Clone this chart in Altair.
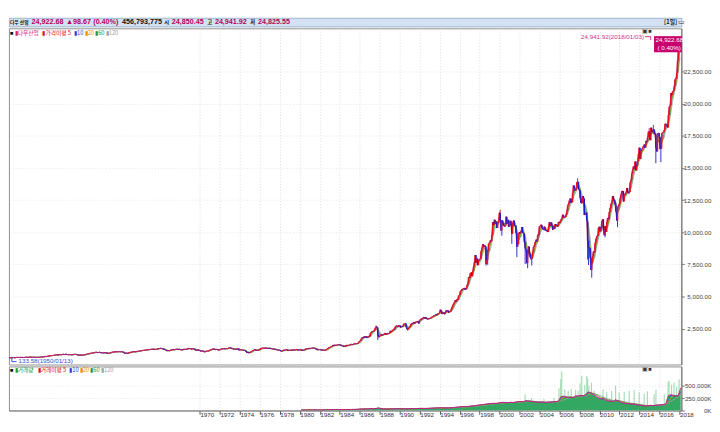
import altair as alt
import pandas as pd

# ---------------- data (read off the picture / approximate monthly closes) ----------------
price_rows = [
    [201, 203, 206, 214, 223, 209, 209, 217, 226, 225, 227, 235],  # 1950
    [249, 252, 248, 259, 250, 242, 258, 270, 271, 262, 261, 269],
    [270, 260, 270, 258, 263, 274, 280, 275, 271, 269, 283, 291],
    [290, 284, 280, 274, 272, 268, 275, 262, 264, 276, 281, 281],
    [292, 295, 304, 319, 327, 334, 348, 336, 361, 352, 386, 404],
    [409, 412, 410, 426, 425, 451, 466, 468, 467, 455, 483, 488],  # 1955
    [471, 484, 512, 516, 478, 493, 518, 502, 475, 480, 473, 500],
    [479, 465, 475, 494, 505, 503, 508, 484, 456, 441, 450, 436],
    [450, 440, 447, 456, 463, 478, 503, 509, 532, 543, 558, 584],
    [594, 603, 602, 624, 644, 644, 675, 664, 632, 646, 660, 679],
    [623, 630, 616, 601, 626, 641, 617, 626, 580, 580, 597, 616],  # 1960
    [648, 662, 677, 679, 697, 684, 705, 720, 701, 704, 722, 731],
    [700, 708, 707, 665, 614, 561, 598, 609, 579, 590, 649, 652],
    [683, 662, 683, 718, 727, 707, 695, 729, 733, 755, 751, 763],
    [785, 800, 813, 810, 821, 832, 841, 839, 875, 873, 875, 874],
    [903, 904, 889, 922, 918, 868, 882, 893, 931, 961, 947, 969],  # 1965
    [984, 952, 925, 933, 884, 870, 847, 788, 774, 807, 792, 786],
    [850, 839, 866, 897, 853, 860, 904, 901, 927, 880, 875, 905],
    [856, 840, 840, 912, 899, 898, 883, 896, 936, 952, 985, 944],
    [946, 905, 936, 950, 938, 873, 816, 837, 813, 856, 812, 800],
    [744, 778, 786, 736, 700, 684, 734, 765, 761, 756, 794, 839],  # 1970
    [869, 879, 904, 942, 908, 891, 858, 898, 887, 839, 831, 890],
    [902, 928, 941, 954, 961, 929, 925, 964, 953, 956, 1018, 1020],
    [999, 955, 951, 921, 901, 892, 926, 888, 947, 956, 822, 851],
    [856, 860, 847, 837, 802, 802, 757, 679, 608, 666, 619, 616],
    [704, 739, 768, 821, 832, 879, 832, 835, 794, 836, 861, 852],  # 1975
    [975, 972, 999, 997, 975, 1003, 985, 974, 990, 965, 947, 1004],
    [954, 936, 919, 927, 899, 916, 890, 862, 847, 818, 830, 831],
    [770, 742, 757, 837, 841, 819, 862, 877, 866, 793, 799, 805],
    [839, 809, 862, 854, 822, 842, 846, 888, 878, 816, 822, 839],
    [876, 863, 786, 817, 851, 868, 935, 933, 932, 925, 993, 964],  # 1980
    [947, 975, 1004, 998, 992, 977, 952, 882, 850, 853, 889, 875],
    [872, 825, 823, 848, 820, 812, 809, 901, 896, 992, 1039, 1047],
    [1076, 1113, 1130, 1226, 1200, 1222, 1199, 1216, 1233, 1225, 1276, 1259],
    [1221, 1155, 1165, 1171, 1105, 1132, 1115, 1224, 1207, 1207, 1189, 1212],
    [1287, 1284, 1267, 1258, 1315, 1336, 1348, 1334, 1329, 1374, 1472, 1547],  # 1985
    [1571, 1709, 1819, 1784, 1877, 1893, 1775, 1898, 1768, 1878, 1914, 1896],
    [2158, 2224, 2305, 2286, 2292, 2419, 2572, 2663, 2596, 1994, 1834, 1939],
    [1958, 2072, 1988, 2032, 2031, 2142, 2129, 2032, 2113, 2149, 2114, 2169],
    [2342, 2258, 2294, 2419, 2480, 2440, 2661, 2737, 2693, 2645, 2748, 2753],
    [2591, 2627, 2708, 2657, 2877, 2881, 2905, 2614, 2453, 2442, 2560, 2634],  # 1990
    [2736, 2882, 2914, 2888, 3028, 2907, 3025, 3044, 3017, 3069, 2895, 3169],
    [3224, 3268, 3236, 3359, 3397, 3319, 3394, 3257, 3272, 3226, 3306, 3301],
    [3310, 3371, 3435, 3428, 3527, 3516, 3540, 3651, 3555, 3681, 3684, 3754],
    [3978, 3832, 3636, 3682, 3758, 3625, 3765, 3913, 3843, 3908, 3739, 3834],
    [3844, 4011, 4158, 4321, 4465, 4556, 4709, 4611, 4789, 4756, 5075, 5117],  # 1995
    [5395, 5486, 5588, 5569, 5643, 5655, 5529, 5616, 5882, 6029, 6522, 6448],
    [6813, 6878, 6584, 7009, 7331, 7673, 8223, 7622, 7945, 7442, 7823, 7908],
    [7907, 8546, 8800, 9063, 8900, 8952, 8883, 7539, 7843, 8592, 9117, 9181],
    [9359, 9307, 9786, 10789, 10560, 10971, 10655, 10829, 10337, 10730, 10878, 11497],
    [10941, 10128, 10922, 10734, 10522, 10448, 10522, 11215, 10651, 10971, 10415, 10788],  # 2000
    [10887, 10495, 9879, 10735, 10912, 10502, 10523, 9950, 8848, 9075, 9852, 10022],
    [9920, 10106, 10404, 9946, 9925, 9243, 8737, 8664, 7592, 8397, 8896, 8342],
    [8054, 7891, 7992, 8480, 8850, 8985, 9234, 9416, 9275, 9801, 9782, 10454],
    [10488, 10584, 10358, 10226, 10188, 10435, 10140, 10174, 10080, 10027, 10428, 10783],
    [10490, 10766, 10504, 10193, 10467, 10275, 10641, 10482, 10569, 10440, 10806, 10718],  # 2005
    [10865, 10993, 11109, 11367, 11168, 11150, 11186, 11381, 11679, 12081, 12222, 12463],
    [12622, 12269, 12354, 13063, 13628, 13409, 13212, 13358, 13896, 13930, 13372, 13265],
    [12650, 12266, 12263, 12820, 12638, 11350, 11378, 11544, 10851, 9325, 8829, 8776],
    [8001, 7063, 7609, 8168, 8500, 8447, 9172, 9496, 9712, 9713, 10345, 10428],
    [10067, 10325, 10857, 11009, 10137, 9774, 10466, 10015, 10788, 11118, 11006, 11578],  # 2010
    [11892, 12226, 12320, 12811, 12570, 12414, 12143, 11614, 10913, 11955, 12046, 12218],
    [12633, 12952, 13212, 13214, 12393, 12880, 13009, 13091, 13437, 13096, 13026, 13104],
    [13861, 14054, 14579, 14840, 15116, 14910, 15500, 14810, 15130, 15546, 16086, 16577],
    [15699, 16322, 16458, 16581, 16717, 16827, 16563, 17098, 17043, 17391, 17828, 17823],
    [17165, 18133, 17776, 17841, 18011, 17620, 17690, 16528, 16285, 17664, 17720, 17425],  # 2015
    [16466, 16517, 17685, 17774, 17787, 17930, 18432, 18401, 18308, 18142, 19124, 19763],
    [19864, 20812, 20663, 20941, 21009, 21350, 21891, 21948, 22405, 23377, 24272, 24719],
]
price_last = [24922.68]  # 2018/01/03

# intramonth extremes visible as spikes in the picture
low_months = ["1987-10", "1990-10", "1998-08", "1998-10", "2000-03", "2001-03", "2001-09",
              "2002-07", "2002-10", "2003-03", "2008-10", "2008-11", "2009-03", "2010-07",
              "2011-10", "2015-08", "2016-02"]
low_vals = [1620, 2350, 7400, 7470, 9730, 9100, 8060,
            7530, 7200, 7420, 7880, 7450, 6470, 9610,
            10400, 15370, 15450]
high_months = ["1987-08", "1999-12", "2000-01", "2007-10", "2014-12", "2015-05", "2018-01"]
high_vals = [2740, 11570, 11750, 14200, 18100, 18350, 24941.92]

# quarterly average volume (K), 1980Q1 .. 2017Q4, then 2018
vol_rows = [
    [9000, 10000, 10000, 11000],      # 1980
    [11000, 11000, 10000, 11000],
    [11000, 12000, 16000, 18000],
    [19000, 20000, 19000, 19000],
    [19000, 18000, 21000, 19000],
    [21000, 22000, 22000, 26000],     # 1985
    [31000, 31000, 31000, 33000],
    [39000, 36000, 41000, 52000],
    [33000, 31000, 29000, 31000],
    [33000, 34000, 36000, 37000],
    [35000, 33000, 36000, 34000],     # 1990
    [39000, 39000, 38000, 41000],
    [43000, 41000, 41000, 43000],
    [46000, 49000, 51000, 53000],
    [56000, 53000, 51000, 53000],
    [56000, 61000, 66000, 71000],     # 1995
    [76000, 79000, 77000, 83000],
    [91000, 96000, 101000, 111000],
    [116000, 121000, 131000, 136000],
    [141000, 146000, 141000, 151000],
    [161000, 166000, 151000, 161000],  # 2000
    [166000, 161000, 171000, 181000],
    [181000, 176000, 201000, 191000],
    [181000, 176000, 171000, 166000],
    [171000, 166000, 161000, 171000],
    [170000, 175000, 180000, 190000],  # 2005
    [280000, 290000, 270000, 260000],
    [270000, 260000, 300000, 290000],
    [310000, 290000, 330000, 380000],
    [350000, 320000, 280000, 250000],
    [230000, 250000, 200000, 190000],  # 2010
    [190000, 180000, 220000, 190000],
    [160000, 150000, 140000, 140000],
    [130000, 130000, 120000, 110000],
    [100000, 95000, 90000, 100000],
    [105000, 95000, 110000, 110000],   # 2015
    [115000, 120000, 130000, 300000],
    [320000, 300000, 290000, 300000],
]
vol_last = [456794]

spike_dates = ["1987-10-20", "2002-07-20", "2003-03-10", "2004-06-10", "2005-06-10",
               "2005-12-10", "2006-02-10", "2006-03-20", "2006-07-10", "2006-11-10",
               "2007-03-01", "2007-08-10", "2007-11-10", "2008-01-20", "2008-03-20",
               "2008-07-10", "2008-09-20", "2008-10-20", "2008-12-10", "2009-03-10",
               "2009-06-20", "2010-05-10", "2010-09-20", "2011-03-20", "2011-08-10",
               "2011-12-20", "2012-06-20", "2012-12-20", "2013-06-20", "2013-12-20",
               "2014-06-20", "2014-10-15", "2015-06-20", "2015-08-25", "2016-06-24",
               "2016-11-10", "2016-12-16", "2017-03-17", "2017-06-16", "2017-09-15",
               "2017-12-15"]
spike_vals = [80000, 330000, 250000, 230000, 260000,
              450000, 630000, 790000, 430000, 400000,
              430000, 420000, 400000, 550000, 700000,
              520000, 700000, 650000, 500000, 560000,
              400000, 430000, 370000, 400000, 500000,
              370000, 380000, 400000, 410000, 370000,
              340000, 390000, 330000, 420000, 330000,
              570000, 600000, 520000, 560000, 480000,
              630000]

x_tick_years = list(range(1970, 2019, 2))
main_ticks = [2500, 5000, 7500, 10000, 12500, 15000, 17500, 20000, 22500]
vol_ticks = [0, 250000, 500000]

# ---------------- tables ----------------
closes = [v for row in price_rows for v in row] + price_last
pdates = pd.date_range("1950-01-01", periods=len(closes), freq="MS") + pd.Timedelta(days=20)
price_df = pd.DataFrame({"date": pdates, "close": closes})
price_df["ym"] = price_df["date"].dt.strftime("%Y-%m")

low_df = pd.DataFrame({"ym": low_months, "ext": low_vals}).merge(price_df, on="ym")
high_df = pd.DataFrame({"ym": high_months, "ext": high_vals}).merge(price_df, on="ym")

vols = [v for row in vol_rows for v in row] + vol_last
vdates = pd.date_range("1980-01-01", periods=len(vols), freq="QS") + pd.Timedelta(days=45)
vol_df = pd.DataFrame({"date": vdates, "vol": vols})
spike_df = pd.DataFrame({"date": pd.to_datetime(spike_dates), "vol": spike_vals})

# ---------------- layout ----------------
W = 672
H_MAIN = 351
H_VOL = 46
FONT = "Liberation Sans, Arial, sans-serif"
KFONT = "Noto Sans CJK KR, sans-serif"

XS = alt.Scale(domain=[alt.DateTime(year=1950, month=11, date=20),
                       alt.DateTime(year=2018, month=3, date=10)])
x_vals = [alt.DateTime(year=y, month=1, date=1) for y in x_tick_years]
YS = alt.Scale(domain=[-287, 25860], nice=False, zero=False)
VS = alt.Scale(domain=[0, 890000], nice=False)

x_axis_main = alt.Axis(values=x_vals, labels=False, ticks=False, domain=False, grid=True,
                       gridColor="#dadada", gridDash=[1, 2], title=None)
x_axis_vol = alt.Axis(values=x_vals, format="%Y", labelAlign="left", labelBaseline="top",
                      tickSize=4, labelPadding=-3, labelFontSize=6.5, labelColor="#333",
                      labelFont=FONT, tickColor="#555", domainColor="#808080",
                      grid=True, gridColor="#dadada", gridDash=[1, 2], title=None,
                      labelOverlap=False, labelFlush=False)
y_axis_main = alt.Axis(values=main_ticks, format=",.2f", orient="right", title=None,
                       labelFontSize=6.5, labelFont=FONT, labelColor="#444",
                       labelAlign="right", labelPadding=28,
                       tickSize=3, tickColor="#707070", domainColor="#707070",
                       grid=True, gridColor="#e4e4e4", gridDash=[1, 2])
y_axis_vol = alt.Axis(values=vol_ticks, labelExpr="format(datum.value, ',') + 'K'",
                      orient="right", title=None, labelFontSize=6.5, labelFont=FONT,
                      labelColor="#444", labelAlign="right", labelPadding=28,
                      tickSize=3, tickColor="#707070",
                      domainColor="#707070", grid=True, gridColor="#e4e4e4", gridDash=[1, 2])

X_MAIN = alt.X("date:T", scale=XS, axis=x_axis_main)
X_VOL = alt.X("date:T", scale=XS, axis=x_axis_vol)


def note(text, x, y, color, size=7, weight="normal", align="left", font=FONT):
    return alt.Chart(pd.DataFrame({"k": [0]})).mark_text(
        text=text, align=align, baseline="middle", fontSize=size, fontWeight=weight,
        color=color, font=font
    ).encode(x=alt.value(x), y=alt.value(y))


def seg(x, y, x2, y2, color):
    return alt.Chart(pd.DataFrame({"k": [0]})).mark_rule(color=color, strokeWidth=1).encode(
        x=alt.value(x), y=alt.value(y), x2=alt.value(x2), y2=alt.value(y2))


# ---------------- header bar ----------------
MAG = "#b8005a"
hy = 4.8
header = alt.layer(
    note("다우 산업", 1, hy, "#111", 5, "bold", font=KFONT),
    note("24,922.68", 23.5, hy, MAG, 7.5, "bold"),
    note("▲98.67", 59.5, hy, MAG, 7.5, "bold"),
    note("(0.40%)", 88, hy, MAG, 7.5, "bold"),
    note("456,793,775", 118, hy, "#111", 7.5, "bold"),
    note("시", 162, hy, "#111", 5.5, "bold", font=KFONT),
    note("24,850.45", 170, hy, MAG, 7.5, "bold"),
    note("고", 207, hy, "#111", 5.5, "bold", font=KFONT),
    note("24,941.92", 215, hy, MAG, 7.5, "bold"),
    note("저", 252, hy, "#111", 5.5, "bold", font=KFONT),
    note("24,825.55", 260, hy, MAG, 7.5, "bold"),
    note("[1일]", 684, hy, "#111", 6, "bold", font=KFONT),
    note("▭", 698, hy, "#333", 7),
).properties(width=702, height=9,
             view=alt.ViewBackground(fill="#d3e2f2", stroke="#9fb3c8", strokeWidth=1))

# ---------------- main price panel ----------------
ma_specs = [(6, "#b0b0b0", 1.1), (4, "#2a9d4a", 1.1), (3, "#f39a10", 1.1),
            (2, "#6a5ae6", 1.0), (1, "#e0106a", 0.9)]


def ma_line(k, color, w):
    return alt.Chart(price_df).transform_window(
        ma="mean(close)", frame=[-(k - 1), 0], sort=[alt.SortField("date")]
    ).mark_line(color=color, strokeWidth=w, clip=True).encode(
        x=X_MAIN, y=alt.Y("ma:Q", scale=YS, axis=y_axis_main))


candles = alt.Chart(price_df).transform_window(
    prev="lag(close)", sort=[alt.SortField("date")]
).transform_filter("isValid(datum.prev)").mark_rule(strokeWidth=1.5, clip=True).encode(
    x=X_MAIN,
    y=alt.Y("prev:Q", scale=YS, axis=y_axis_main),
    y2="close:Q",
    color=alt.condition("datum.close >= datum.prev", alt.value("#e8101a"), alt.value("#1a1acc")),
)
low_wicks = alt.Chart(low_df).mark_rule(strokeWidth=1, color="#2a2ad0", clip=True).encode(
    x=X_MAIN, y=alt.Y("ext:Q", scale=YS, axis=y_axis_main), y2="close:Q")
high_wicks = alt.Chart(high_df).mark_rule(strokeWidth=1, color="#e01030", clip=True).encode(
    x=X_MAIN, y=alt.Y("ext:Q", scale=YS, axis=y_axis_main), y2="close:Q")

last_df = price_df.tail(1)
box_shape = "M-1,-0.58L1,-0.58L1,0.58L-1,0.58Z"
price_box = alt.Chart(last_df).mark_point(
    shape=box_shape, size=841, filled=True, opacity=1, color="#c8006e", yOffset=4
).encode(x=alt.value(W + 16), y=alt.Y("close:Q", scale=YS, axis=y_axis_main))
price_box_t1 = alt.Chart(last_df).mark_text(
    text="24,922.68", align="left", baseline="middle", fontSize=6.5, color="white", font=FONT
).encode(x=alt.value(W + 3), y=alt.Y("close:Q", scale=YS, axis=y_axis_main))
price_box_t2 = alt.Chart(last_df).mark_text(
    text="( 0.40%)", align="left", baseline="middle", fontSize=6.5, color="white", font=FONT,
    yOffset=8
).encode(x=alt.value(W + 5), y=alt.Y("close:Q", scale=YS, axis=y_axis_main))

ly = 4.5
main = alt.layer(
    *[ma_line(k, c, w) for k, c, w in ma_specs],
    low_wicks, high_wicks, candles,
    price_box, price_box_t1, price_box_t2,
    note("■", 1, ly, "#111", 6),
    note("▮다우산업", 6, ly, "#d0206a", 6, font=KFONT),
    note("▮가격이평 5", 35, ly, "#e01020", 6, font=KFONT),
    note("▮10", 68, ly, "#3a3ae0", 6, font=KFONT),
    note("▮20", 79, ly, "#f08c00", 6, font=KFONT),
    note("▮60", 90, ly, "#1f9a44", 6, font=KFONT),
    note("▮120", 101, ly, "#a0a0a0", 6, font=KFONT),
    note("▣■", W - 1, 3, "#333", 6, align="right"),
    note("24,941.92(2018/01/03)", W - 9, 8.7, "#d0308a", 6.5, align="right"),
    seg(W - 8, 8.7, W - 2, 8.7, "#d0308a"),
    seg(W - 2, 8.7, W - 2, 12, "#d0308a"),
    note("133.58(1950/01/13)", 10, 347, "#3050d0", 6.5),
    seg(3, 343, 3, 348, "#3050d0"),
    seg(3, 348, 8, 348, "#3050d0"),
).properties(width=W, height=H_MAIN,
             view=alt.ViewBackground(fill="white", stroke="#8c8c8c", strokeWidth=1))

# ---------------- volume panel ----------------
vol_specs = [(6, "#a8a8a8"), (4, "#2a9d4a"), (3, "#f39a10"), (2, "#4a4ae6"), (1, "#e0106a")]


def vol_ma(k, color):
    return alt.Chart(vol_df).transform_window(
        ma="mean(vol)", frame=[-(k - 1), 0], sort=[alt.SortField("date")]
    ).mark_line(color=color, strokeWidth=0.8, clip=True).encode(
        x=X_VOL, y=alt.Y("ma:Q", scale=VS, axis=y_axis_vol))


spikes = alt.Chart(spike_df).mark_rule(color="#a6dbb6", strokeWidth=1.2, clip=True).encode(
    x=X_VOL, y=alt.Y("vol:Q", scale=VS, axis=y_axis_vol), y2=alt.datum(0))
vol_area = alt.Chart(vol_df).mark_area(color="#33a862", opacity=1, clip=True).encode(
    x=X_VOL, y=alt.Y("vol:Q", scale=VS, axis=y_axis_vol))

vy = 4
volume = alt.layer(
    spikes, vol_area, *[vol_ma(k, c) for k, c in vol_specs],
    note("■", 1, vy, "#111", 6),
    note("▮거래량", 6, vy, "#1f9a44", 6, font=KFONT),
    note("▮거래이평 5", 30, vy, "#e01020", 6, font=KFONT),
    note("▮10", 63, vy, "#3a3ae0", 6, font=KFONT),
    note("▮20", 74, vy, "#f08c00", 6, font=KFONT),
    note("▮60", 85, vy, "#1f9a44", 6, font=KFONT),
    note("▮120", 96, vy, "#a0a0a0", 6, font=KFONT),
    note("▣■", W - 1, 3, "#333", 6, align="right"),
).properties(width=W, height=H_VOL,
             view=alt.ViewBackground(fill="white", stroke="#8c8c8c", strokeWidth=1))

chart = alt.vconcat(header, main, volume, spacing=0).resolve_scale(
    x="shared", y="independent"
).properties(padding=0, background="white")

chart.save("out.html", embed_options={"renderer": "svg", "actions": False})
